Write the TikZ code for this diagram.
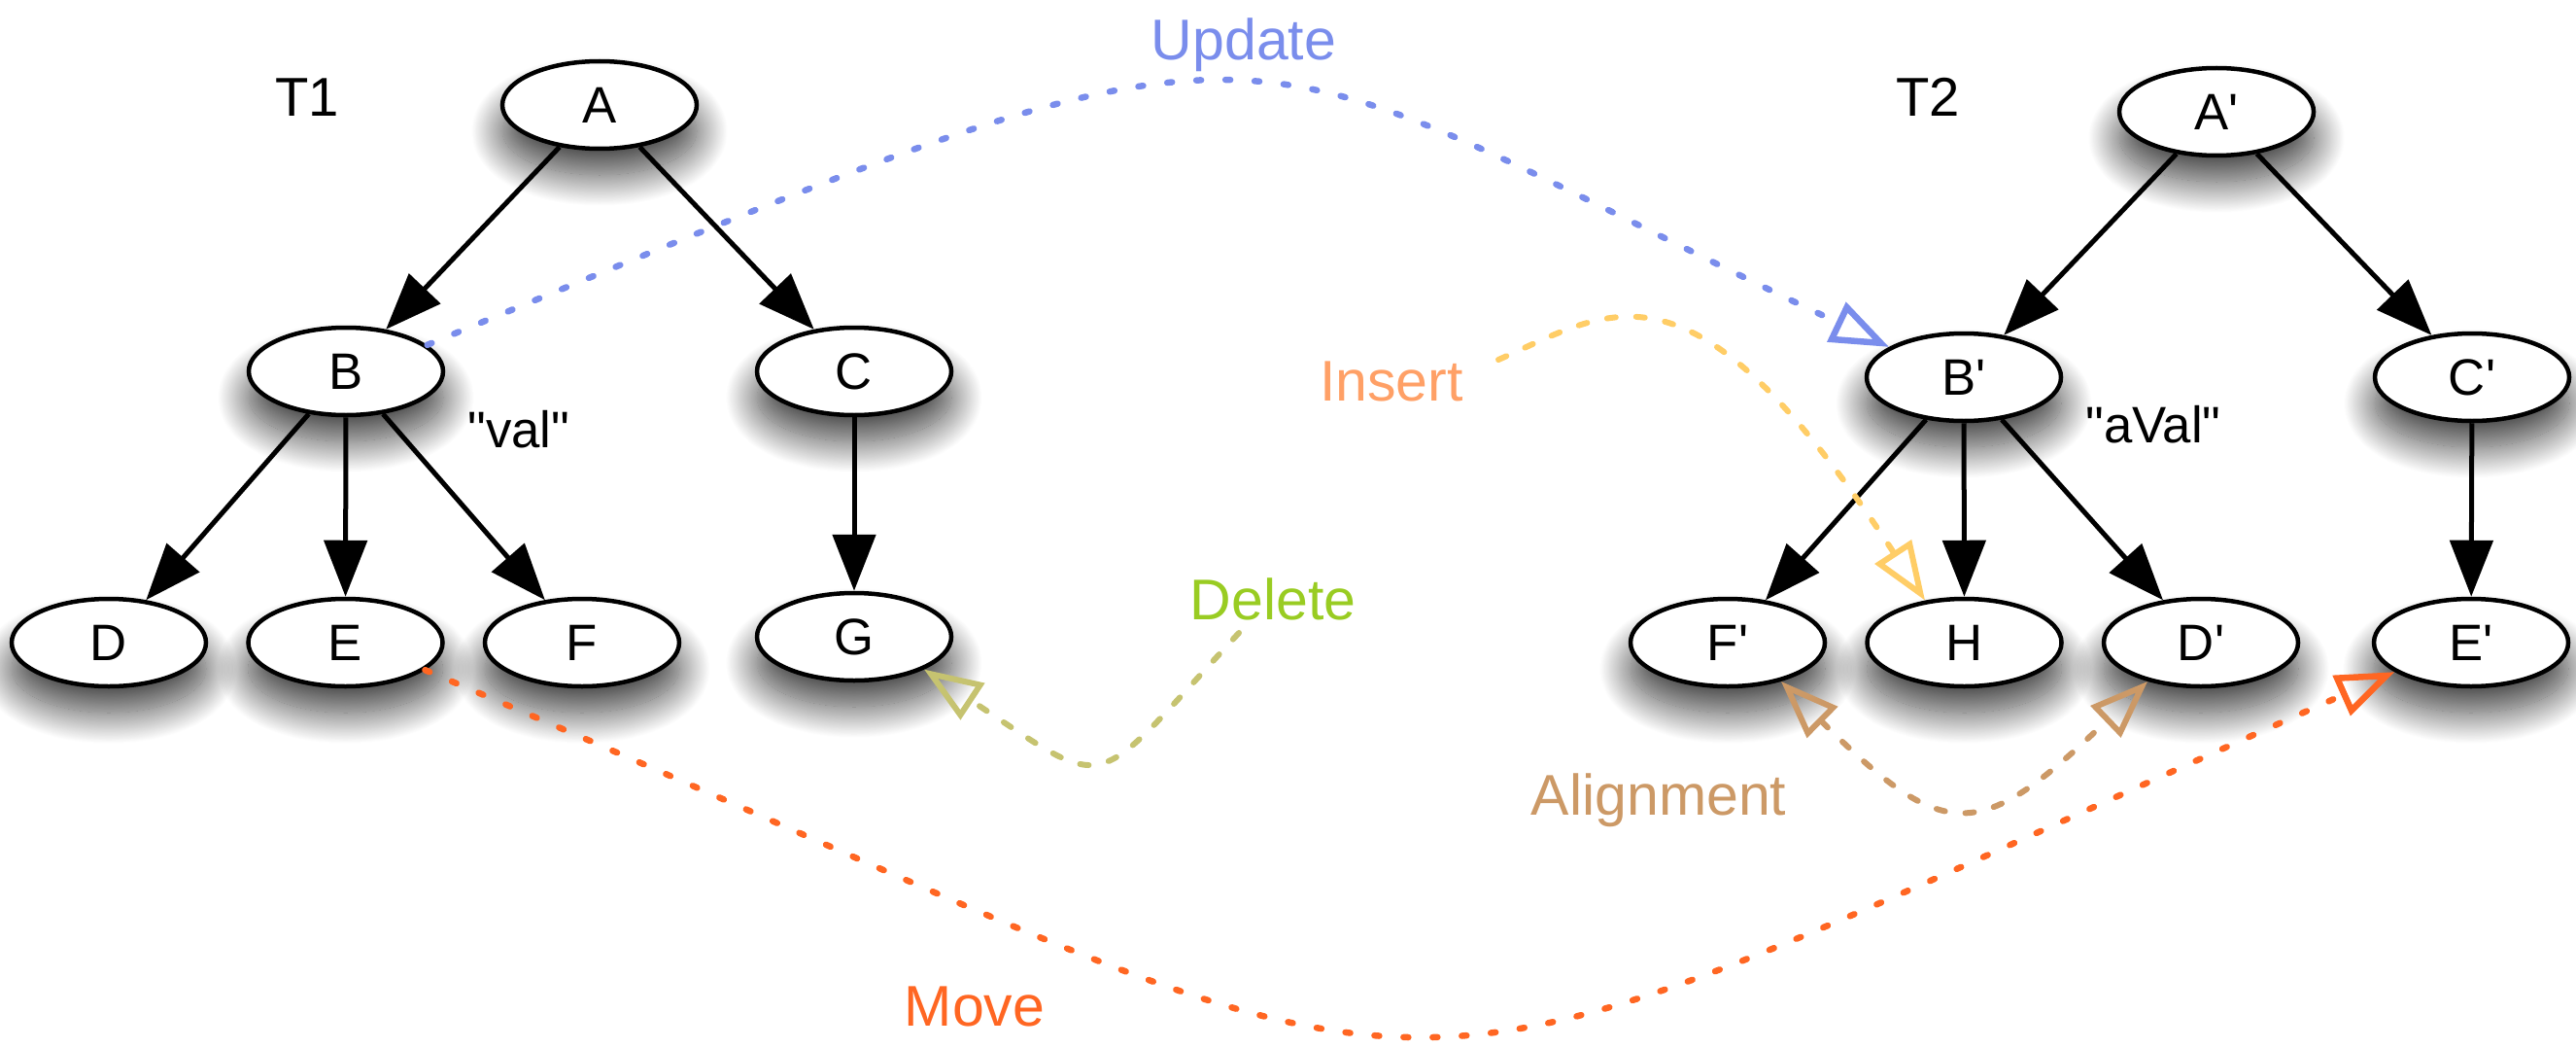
\documentclass[tikz,border=0pt]{standalone}
\usepackage{fontspec}
\setmainfont{Liberation Sans}
\usetikzlibrary{positioning, shapes.geometric, arrows.meta, shadows.blur}

\definecolor{updcol}{RGB}{122,141,236}
\definecolor{inscol}{RGB}{255,205,102}
\definecolor{instext}{RGB}{255,160,102}
\definecolor{delcol}{RGB}{198,195,112}
\definecolor{deltext}{RGB}{153,204,34}
\definecolor{alicol}{RGB}{204,153,102}
\definecolor{movcol}{RGB}{255,102,34}

\newcommand{\pq}{\textquotesingle}
\newcommand{\dq}{\textquotedbl}

\tikzset{
  treenode/.style={ellipse, draw=black, line width=0.045cm, fill=white, minimum width=2cm, minimum height=0.9cm, inner sep=0pt, font=\fontsize{15}{18}\selectfont, blur shadow={shadow xshift=0cm, shadow yshift=-0.27cm, shadow blur radius=0.32cm, shadow blur steps=40, shadow opacity=75}},
  treeedge/.style={-{Triangle[length=0.58cm, width=0.44cm]}, line width=0.05cm},
  treelabel/.style={font=\fontsize{16}{19}\selectfont, inner sep=0pt},
  vallabel/.style={font=\fontsize{15}{18}\selectfont, inner sep=0pt},
  oplabel/.style={font=\fontsize{16.8}{20}\selectfont, inner sep=0pt, anchor=base},
  opdots/.style={line width=0.065cm, line cap=round, dash pattern=on 0.05cm off 0.25cm},
  opdash/.style={line width=0.06cm, line cap=round, dash pattern=on 0.09cm off 0.21cm},
  optip/.style={-{Triangle[open, length=0.6cm, width=0.44cm]}},
  optips/.style={{Triangle[open, length=0.6cm, width=0.44cm]}-{Triangle[open, length=0.6cm, width=0.44cm]}}
}

\begin{document}
\begin{tikzpicture}
\useasboundingbox (0,0) rectangle (26.51,-10.77);

%%% TREE T1
\node [treelabel] (t1) at (3.16,-1.00) {T1};
\node [treenode] (t1-a) at (6.17,-1.08) {A};
\node [treenode] (t1-b) at (3.56,-3.82) {B};
\node [treenode] (t1-c) at (8.79,-3.82) {C};
\node [treenode] (t1-d) at (1.12,-6.61) {D};
\node [treenode, right = 0.39cm of t1-d] (t1-e) {E};
\node [treenode, right = 0.39cm of t1-e] (t1-f) {F};
\node [treenode] (t1-g) at (8.79,-6.55) {G};
\node [vallabel] (t1-val) at (5.34,-4.42) {\dq val\dq};

%%% TREE T2
\node [treelabel] (t2) at (19.84,-1.00) {T2};
\node [treenode] (t2-a) at (22.81,-1.15) {A\pq};
\node [treenode] (t2-b) at (20.21,-3.88) {B\pq};
\node [treenode] (t2-c) at (25.44,-3.88) {C\pq};
\node [treenode] (t2-f) at (17.78,-6.61) {F\pq};
\node [treenode, right = 0.39cm of t2-f] (t2-h) {H};
\node [treenode, right = 0.39cm of t2-h] (t2-d) {D\pq};
\node [treenode] (t2-e) at (25.43,-6.61) {E\pq};
\node [vallabel] (t2-val) at (22.16,-4.37) {\dq aVal\dq};

%%% operation labels
\node [oplabel, text=updcol] (upd) at (12.80,-0.62) {Update};
\node [oplabel, text=instext] (ins) at (14.32,-4.12) {Insert};
\node [oplabel, text=deltext] (del) at (13.10,-6.37) {Delete};
\node [oplabel, text=alicol] (ali) at (17.07,-8.38) {Alignment};
\node [oplabel, text=movcol] (mov) at (10.03,-10.55) {Move};

\coordinate (ins-start) at (15.42,-3.70);
\coordinate (del-start) at (12.75,-6.51);

%%% tree edges
\draw [treeedge] (t1-a) -- (t1-b);
\draw [treeedge] (t1-a) -- (t1-c);
\draw [treeedge] (t1-b) -- (t1-d);
\draw [treeedge] (t1-b) -- (t1-e);
\draw [treeedge] (t1-b) -- (t1-f);
\draw [treeedge] (t1-c) -- (t1-g);

\draw [treeedge] (t2-a) -- (t2-b);
\draw [treeedge] (t2-a) -- (t2-c);
\draw [treeedge] (t2-b) -- (t2-f);
\draw [treeedge] (t2-b) -- (t2-h);
\draw [treeedge] (t2-b) -- (t2-d);
\draw [treeedge] (t2-c) -- (t2-e);

%%% operations
\draw [opdots, updcol, optip] (t1-b.18) .. controls (13.63,0.28) and (12.31,-0.18) .. (t2-b.158);
\draw [opdash, inscol, optip] (ins-start) .. controls (16.60,-3.18) and (17.40,-2.50) .. (t2-h.133);
\draw [opdash, delcol, optip] (del-start) .. controls (11.19,-8.19) and (11.47,-8.18) .. (t1-g.-25);
\draw [opdash, alicol, optips] (t2-f.-36) .. controls (20.02,-8.68) and (20.36,-8.68) .. (t2-d.-144);
\draw [opdots, movcol, optip] (t1-e.-19) .. controls (15.87,-11.76) and (13.17,-12.01) .. (t2-e.-159);

\end{tikzpicture}
\end{document}
